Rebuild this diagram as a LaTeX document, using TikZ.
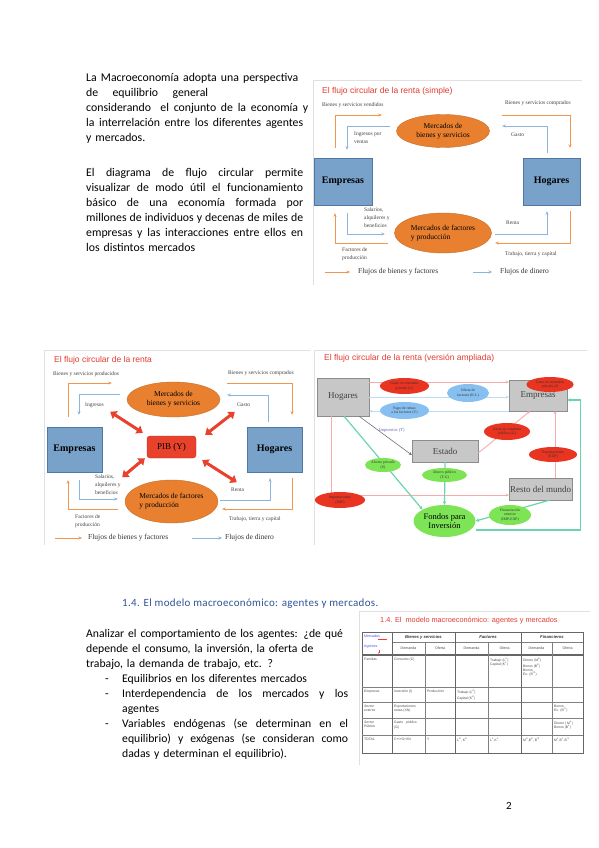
\documentclass[tikz,border=0pt]{standalone}
\usepackage{fontspec}
\setmainfont{Carlito}
\newfontfamily\tms{Liberation Serif}
\newfontfamily\arl{Liberation Sans}
\usetikzlibrary{arrows.meta,shapes.geometric}

\definecolor{naranja}{RGB}{232,128,48}
\definecolor{flecnar}{RGB}{240,150,80}
\definecolor{flecazul}{RGB}{140,180,220}
\definecolor{cajaazul}{RGB}{120,162,202}
\definecolor{bordeazul}{RGB}{80,120,160}
\definecolor{titrojo}{RGB}{225,60,50}
\definecolor{pib}{RGB}{232,65,44}
\definecolor{rojoel}{RGB}{232,52,32}
\definecolor{azulel}{RGB}{135,192,240}
\definecolor{verdeel}{RGB}{125,228,85}
\definecolor{verdefl}{RGB}{105,214,175}
\definecolor{rosa}{RGB}{246,172,172}
\definecolor{azulfl}{RGB}{190,220,245}
\definecolor{cabazul}{RGB}{47,84,150}

% linea estirada a un ancho dado
\newcommand\estira[2]{\leavevmode\hbox to #1{\spaceskip=0.226em plus 1fil minus 0.1em\relax #2}}
\newcommand\guion[1]{\hspace*{19pt}\makebox[17pt][l]{-}#1}

\tikzset{
  texto/.style={inner sep=0pt, text width=217pt, align=left, font=\fontsize{11.8}{15}\selectfont},
  titulo/.style={inner sep=0pt, text=titrojo, font=\arl\fontsize{8.5}{10}\selectfont},
  marco/.style={draw=black!12, line width=1pt},
  caja/.style={draw=bordeazul, fill=cajaazul, inner sep=0pt, font=\tms\bfseries\fontsize{10}{12}\selectfont},
  merc/.style={ellipse, draw=naranja!85!black, fill=naranja, inner sep=0pt, align=center, font=\tms\fontsize{7.5}{9}\selectfont},
  etq/.style={inner sep=0pt, align=left, text=black!75, font=\tms\fontsize{5.5}{8}\selectfont},
  ley/.style={inner sep=0pt, text=black!80, font=\tms\fontsize{7.5}{9}\selectfont},
  fnar/.style={draw=flecnar, line width=0.9pt, -{Stealth[length=3.5pt,width=3pt]}},
  fazul/.style={draw=flecazul, line width=0.9pt, -{Stealth[length=3.5pt,width=3pt]}},
  dflecha/.style={draw=pib, line width=3pt, {Triangle[width=9pt,length=6pt]}-{Triangle[width=9pt,length=6pt]}},
  agente/.style={draw=black!45, fill=black!22, inner sep=0pt, text=black!75, font=\tms\fontsize{9}{11}\selectfont},
  flujo/.style={ellipse, inner sep=0pt, align=center, text=black!80, font=\tms\fontsize{3.8}{4.4}\selectfont},
  lrosa/.style={draw=rosa, line width=0.9pt, -{Stealth[length=3pt,width=3pt]}},
  lazul/.style={draw=azulfl, line width=0.9pt, -{Stealth[length=3pt,width=3pt]}},
  lverde/.style={draw=verdefl, line width=1.2pt, -{Stealth[length=3.5pt,width=3.5pt]}},
  celda/.style={anchor=north west, inner sep=0pt, align=left, text=black!70, font=\arl\fontsize{3.4}{4.3}\selectfont},
  cab/.style={inner sep=0pt, text=black!80, font=\arl\bfseries\itshape\fontsize{4.2}{5}\selectfont},
  sub/.style={inner sep=0pt, text=black!70, font=\arl\fontsize{3.6}{4.5}\selectfont}
}

\begin{document}
\begin{tikzpicture}[x=1pt,y=-1pt]
\path[use as bounding box, fill=white] (0,0) rectangle (599,848);

% texto de la pagina
\node[texto, anchor=base west] (par1) at (86,82) {\estira{212pt}{La Macroeconomía adopta una perspectiva}\\
  \estira{122pt}{de equilibrio general}\\
  \estira{222pt}{considerando\ \ el conjunto de la economía y}\\
  \estira{217pt}{la interrelación entre los diferentes agentes}\\
  y mercados.};
\node[texto, anchor=base west] (par2) at (86,176) {\estira{217pt}{El diagrama de flujo circular permite}\\
  \estira{217pt}{visualizar de modo útil el funcionamiento}\\
  \estira{217pt}{básico de una economía formada por}\\
  \estira{217pt}{millones de individuos y decenas de miles de}\\
  \estira{217pt}{empresas y las interacciones entre ellos en}\\
  los distintos mercados};
\node[anchor=base west, inner sep=0pt, text=cabazul, font=\fontsize{11}{13}\selectfont\addfontfeatures{LetterSpace=3}] (cab4) at (122,606) {1.4. El modelo macroeconómico: agentes y mercados.};
\node[texto, text width=262pt, anchor=base west, font=\fontsize{11.7}{15}\selectfont] (par3) at (86,637) {Analizar el comportamiento de los agentes: ¿de qué\\
  depende el consumo, la inversión, la oferta de\\
  trabajo, la demanda de trabajo, etc. ?\\
  \guion{Equilibrios en los diferentes mercados}\\
  \guion{\estira{226pt}{Interdependencia de los mercados y los}}\\
  \hspace*{36pt}agentes\\
  \guion{\estira{226pt}{Variables endógenas (se determinan en el}}\\
  \hspace*{36pt}\estira{226pt}{equilibrio) y exógenas (se consideran como}\\
  \hspace*{36pt}dadas y determinan el equilibrio).};
\node[anchor=base, inner sep=0pt, font=\fontsize{11}{13}\selectfont] (pag) at (509,809) {2};

% flujo circular simple
\begin{scope}
\clip (312,79) rectangle (582,287);
\draw[marco] (582,81) -- (313,81) -- (313,285);
\node[titulo, anchor=west] (tit1) at (322,91) {El flujo circular de la renta (simple)};
\node[caja, minimum width=58pt, minimum height=47pt] (emp1) at (343,181.5) {Empresas};
\node[caja, minimum width=57pt, minimum height=47pt] (hog1) at (551.5,181.5) {Hogares};
\node[merc, minimum width=93pt, minimum height=33pt] (mbs1) at (443,131) {Mercados de\\bienes y servicios};
\node[merc, minimum width=97pt, minimum height=40pt, align=left] (mfp1) at (443,233) {Mercados de factores\\y producción};
\draw[fnar] ([xshift=-8pt,yshift=10pt]emp1.north) |- ([xshift=-14.5pt,yshift=16pt]mbs1.west);
\draw[fazul] ([xshift=-6.5pt,yshift=5pt]mbs1.west) -| ([xshift=4pt,yshift=8pt]emp1.north);
\draw[fnar] ([xshift=12.5pt,yshift=16pt]mbs1.east) -| ([xshift=18.5pt,yshift=10pt]hog1.north);
\draw[fazul] ([xshift=-4.5pt,yshift=5pt]hog1.north) |- ([xshift=12.5pt,yshift=5pt]mbs1.east);
\draw[fazul] ([xshift=4pt,yshift=-8pt]emp1.south) |- ([xshift=-9.5pt,yshift=-1pt]mfp1.west);
\draw[fnar] ([xshift=-6.5pt,yshift=-10pt]mfp1.west) -| ([xshift=-8pt,yshift=-8pt]emp1.south);
\draw[fazul] ([xshift=3.5pt,yshift=-1pt]mfp1.east) -| ([xshift=-4.5pt,yshift=-6pt]hog1.south);
\draw[fnar] ([xshift=18.5pt,yshift=-6pt]hog1.south) |- ([xshift=3.5pt,yshift=-10pt]mfp1.east);
\node[etq, anchor=west] (bsv1) at (322,105) {Bienes y servicios vendidos};
\node[etq, anchor=north west] (ipv1) at (354,132) {Ingresos por\\ventas};
\node[etq, anchor=west] (bsc1) at (505,103) {Bienes y servicios comprados};
\node[etq, anchor=west] (gas1) at (511,135) {Gasto};
\node[etq, anchor=north west] (sab1) at (364,207) {Salarios,\\alquileres y\\beneficios};
\node[etq, anchor=north west] (fdp1) at (342,247) {Factores de\\producción};
\node[etq, anchor=west] (ren1) at (506,223) {Renta};
\node[etq, anchor=west] (ttc1) at (505,254) {Trabajo, tierra y capital};
\node[ley, anchor=west] (lbf1) at (358,272) {Flujos de bienes y factores};
\node[ley, anchor=west] (ldi1) at (500,272) {Flujos de dinero};
\draw[fnar] ([xshift=-33pt]lbf1.west) -- ([xshift=-8pt]lbf1.west);
\draw[fazul] ([xshift=-27pt]ldi1.west) -- ([xshift=-8pt]ldi1.west);
\end{scope}

% flujo circular con PIB
\draw[marco] (310,350) -- (44,350) -- (44,545);
\node[titulo, anchor=west] (tit2) at (54,360) {El flujo circular de la renta};
\node[caja, minimum width=55pt, minimum height=45pt] (emp2) at (74.5,449.5) {Empresas};
\node[caja, minimum width=55pt, minimum height=45pt] (hog2) at (274.5,449.5) {Hogares};
\node[merc, minimum width=93pt, minimum height=35pt] (mbs2) at (173.5,399.5) {Mercados de\\bienes y servicios};
\node[merc, minimum width=93pt, minimum height=43pt, align=left] (mfp2) at (171.5,501.5) {Mercados de factores\\y producción};
\node[draw=pib!80!black, fill=pib, rounded corners=3pt, minimum width=49pt, minimum height=22pt, inner sep=0pt, font=\tms\fontsize{9}{11}\selectfont] (pib2) at (171.5,447) {PIB (Y)};
\draw[dflecha] ([shift={(8pt,15pt)}]emp2.north east) -- ([shift={(-4pt,3pt)}]pib2.north west);
\draw[dflecha] ([shift={(-12pt,15pt)}]hog2.north west) -- ([shift={(9pt,1pt)}]pib2.north east);
\draw[dflecha] ([shift={(20pt,-5pt)}]emp2.south east) -- ([shift={(-2pt,0pt)}]pib2.south west);
\draw[dflecha] ([shift={(6pt,-2pt)}]pib2.south east) -- ([shift={(-10pt,-10pt)}]hog2.south west);
\draw[fnar] ([xshift=-6.5pt,yshift=10pt]emp2.north) |- ([xshift=-15pt,yshift=16.5pt]mbs2.west);
\draw[fazul] ([xshift=-7pt,yshift=5.5pt]mbs2.west) -| ([xshift=4.5pt,yshift=12pt]emp2.north);
\draw[fnar] ([xshift=7pt,yshift=16.5pt]mbs2.east) -| ([xshift=17.5pt,yshift=12pt]hog2.north);
\draw[fazul] ([xshift=-6.5pt,yshift=5pt]hog2.north) |- ([xshift=7pt,yshift=4.5pt]mbs2.east);
\draw[fazul] ([xshift=4.5pt,yshift=-8pt]emp2.south) |- ([xshift=-7pt,yshift=2.5pt]mfp2.west);
\draw[fnar] ([xshift=-7pt,yshift=-7.5pt]mfp2.west) -| ([xshift=-6.5pt,yshift=-8pt]emp2.south);
\draw[fazul] ([xshift=2pt,yshift=1.5pt]mfp2.east) -| ([xshift=-4.5pt,yshift=-6pt]hog2.south);
\draw[fnar] ([xshift=17.5pt,yshift=-6pt]hog2.south) |- ([xshift=4pt,yshift=-7.5pt]mfp2.east);
\node[etq, anchor=west] (bsp2) at (53,374) {Bienes y servicios producidos};
\node[etq, anchor=west] (ing2) at (85,405) {Ingresos};
\node[etq, anchor=west] (bsc2) at (228,373) {Bienes y servicios comprados};
\node[etq, anchor=west] (gas2) at (237,405) {Gasto};
\node[etq, anchor=north west] (sab2) at (95,474) {Salarios,\\alquileres y\\beneficios};
\node[etq, anchor=north west] (fdp2) at (75,514) {Factores de\\producción};
\node[etq, anchor=west] (ren2) at (231,490) {Renta};
\node[etq, anchor=west] (ttc2) at (229,519) {Trabajo, tierra y capital};
\node[ley, anchor=west] (lbf2) at (88,538) {Flujos de bienes y factores};
\node[ley, anchor=west] (ldi2) at (225,538) {Flujos de dinero};
\draw[fnar] ([xshift=-33pt]lbf2.west) -- ([xshift=-6pt]lbf2.west);
\draw[fazul] ([xshift=-33pt]ldi2.west) -- ([xshift=-3pt]ldi2.west);

% version ampliada
\draw[marco] (587,350) -- (314,350) -- (314,545);
\node[titulo, anchor=west] (tit3) at (324,358) {El flujo circular de la renta (versión ampliada)};
\node[agente, minimum width=52pt, minimum height=38pt] (hog3) at (343,397) {Hogares};
\node[agente, minimum width=58pt, minimum height=31pt] (emp3) at (538,395.5) {Empresas};
\node[agente, minimum width=66pt, minimum height=22pt] (est3) at (445,451) {Estado};
\node[agente, minimum width=63pt, minimum height=22pt] (rdm3) at (540.5,489) {Resto del mundo};
\node[ellipse, fill=verdeel, inner sep=0pt, minimum width=62pt, minimum height=32pt, align=center, font=\tms\fontsize{8.5}{9.5}\selectfont] (fpi3) at (444.5,521) {Fondos para\\Inversión};
\draw[lrosa] ([yshift=15pt]hog3.east) -- ([yshift=15pt]hog3.east -| emp3.west);
\draw[lazul] (hog3.east) -- (hog3.east -| emp3.west);
\draw[lazul] (emp3.south west) -- (emp3.south west -| hog3.east);
\draw[draw=black!55, line width=0.6pt, -{Stealth[length=3pt,width=3pt]}] ([xshift=16pt]hog3.south) -- ([yshift=-4pt]est3.west);
\draw[lrosa] ([yshift=-2pt]est3.east) -- ([xshift=-8pt]emp3.south);
\draw[lrosa] ([xshift=14.5pt]rdm3.north) -- ([xshift=14.5pt]rdm3.north |- emp3.south);
\draw[lrosa] ([xshift=-12pt]hog3.south) |- ([yshift=-6pt]rdm3.west);
\draw[lverde] ([xshift=1pt]hog3.south) -- (fpi3.north west);
\draw[lverde] (est3.south) -- (fpi3.north);
\draw[lverde] ([xshift=9pt]rdm3.south) -- (fpi3.east);
\draw[lverde] ([yshift=-9pt]fpi3.east) -| ([xshift=13pt,yshift=-4.5pt]emp3.east) -- ([yshift=-4.5pt]emp3.east);
\node[flujo, fill=rojoel, minimum width=49pt, minimum height=16pt] (gcp3) at (404.5,386) {Gasto en consumo\\privado (C)};
\node[flujo, fill=rojoel, minimum width=47pt, minimum height=15pt] (gip3) at (550,384.5) {Gasto en inversión\\privada (I)};
\node[flujo, fill=azulel, minimum width=42pt, minimum height=18pt] (ofk3) at (468,393) {Oferta de\\factores (K.L)};
\node[flujo, fill=azulel, minimum width=49pt, minimum height=17pt] (prf3) at (404.5,410.5) {Pago de rentas\\a los factores (Y)};
\node[flujo, fill=rojoel, minimum width=46pt, minimum height=17pt] (gcg3) at (507,431.5) {Gasto en consumo\\público (G)};
\node[flujo, fill=rojoel, minimum width=48pt, minimum height=15pt] (exp3) at (553,454.5) {Exportaciones\\(EXP)};
\node[flujo, fill=verdeel, minimum width=36pt, minimum height=14pt] (apr3) at (383,465) {Ahorro privado\\(S)};
\node[flujo, fill=verdeel, minimum width=45pt, minimum height=14pt] (apu3) at (444.5,475) {Ahorro público\\(T-G)};
\node[flujo, fill=rojoel, minimum width=50pt, minimum height=16pt] (imp3) at (340,500) {Importaciones\\(IMP)};
\node[flujo, fill=verdeel, minimum width=42pt, minimum height=20pt] (fex3) at (510,515) {Financiación\\exterior\\(IMP-EXP)};
\node[inner sep=0pt, anchor=west, text=black!50!blue!60, font=\tms\fontsize{4.5}{5}\selectfont] (imt3) at (379,430) {Impuestos (T)};

% tabla de agentes y mercados
\draw[marco] (590,611) -- (359,611) -- (359,765);
\node[inner sep=0pt, anchor=west, text=titrojo, font=\arl\fontsize{7.3}{9}\selectfont] (tit4) at (380,621) {1.4. El\ \ modelo macroeconómico: agentes y mercados};
\draw[black!60, line width=0.5pt] (362,632) rectangle (583,753);
\draw[black!60, line width=1.3pt] (362,655) -- (583,655);
\draw[black!50, line width=0.4pt] (392,642) -- (583,642);
\foreach \y in {687,702,718,735} \draw[black!50, line width=0.4pt] (362,\y) -- (583,\y);
\foreach \x in {392,455,521} \draw[black!60, line width=0.5pt] (\x,632) -- (\x,753);
\foreach \x in {425,488,552} \draw[black!50, line width=0.4pt] (\x,642) -- (\x,753);
\node[sub, text=blue!70, anchor=west] (t11) at (364,636) {Mercados};
\node[sub, text=blue!70, anchor=west] (t21) at (364,647) {Agentes};
\draw[red!80, line width=0.3pt, -{Stealth[length=1.5pt,width=1.5pt]}] ([xshift=6pt,yshift=-2pt]t11.south) -- ([xshift=15pt,yshift=-2pt]t11.south);
\draw[red!80, line width=0.3pt, -{Stealth[length=1.5pt,width=1.5pt]}] ([xshift=8pt,yshift=-1pt]t21.south) -- ([xshift=8pt,yshift=-5pt]t21.south);
\node[cab] (t12) at (423.5,637) {Bienes y servicios};
\node[cab] (t14) at (488,637) {Factores};
\node[cab] (t16) at (552,637) {Financieros};
\node[sub] (t22) at (408.5,648.5) {Demanda};
\node[sub] (t23) at (440,648.5) {Oferta};
\node[sub] (t24) at (471.5,648.5) {Demanda};
\node[sub] (t25) at (504.5,648.5) {Oferta};
\node[sub] (t26) at (536.5,648.5) {Demanda};
\node[sub] (t27) at (567.5,648.5) {Oferta};
\node[celda] (t31) at (364,658) {Familias};
\node[celda] (t32) at (394,658) {Consumo (C)};
\node[celda] (t35) at (490,658) {Trabajo (L\textsuperscript{s})\\Capital (K\textsuperscript{s})};
\node[celda] (t36) at (523,658) {Dinero (M\textsuperscript{d})\\Bonos (B\textsuperscript{d})\\Bonos\\Ex. (B\textsuperscript{*d})};
\node[celda] (t41) at (364,690) {\itshape Empresas};
\node[celda] (t42) at (394,690) {Inversión (I)};
\node[celda] (t43) at (427,690) {Producción};
\node[celda] (t44) at (457,690) {Trabajo (L\textsuperscript{d})\\Capital (K\textsuperscript{d})};
\node[celda] (t51) at (364,705) {\itshape Sector\\exterior};
\node[celda] (t52) at (394,705) {Exportaciones\\netas (XN)};
\node[celda] (t57) at (554,705) {Bonos\\Ex. (B\textsuperscript{*s})};
\node[celda] (t61) at (364,721) {\itshape Sector\\Público};
\node[celda] (t62) at (394,721) {Gasto\ \ \ público\\(G)};
\node[celda] (t67) at (554,721) {Dinero ( M\textsuperscript{s})\\Bonos (B\textsuperscript{s})};
\node[celda] (t71) at (364,738) {TOTAL};
\node[celda] (t72) at (394,738) {C+I+G+XN};
\node[celda] (t73) at (427,738) {Y};
\node[celda] (t74) at (457,738) {L\textsuperscript{d}, K\textsuperscript{d}};
\node[celda] (t75) at (490,738) {L\textsuperscript{s},K\textsuperscript{s}};
\node[celda] (t76) at (523,738) {M\textsuperscript{d},B\textsuperscript{d}, B\textsuperscript{*d}};
\node[celda] (t77) at (554,738) {M\textsuperscript{s},B\textsuperscript{s},B\textsuperscript{*s}};
\end{tikzpicture}
\end{document}
